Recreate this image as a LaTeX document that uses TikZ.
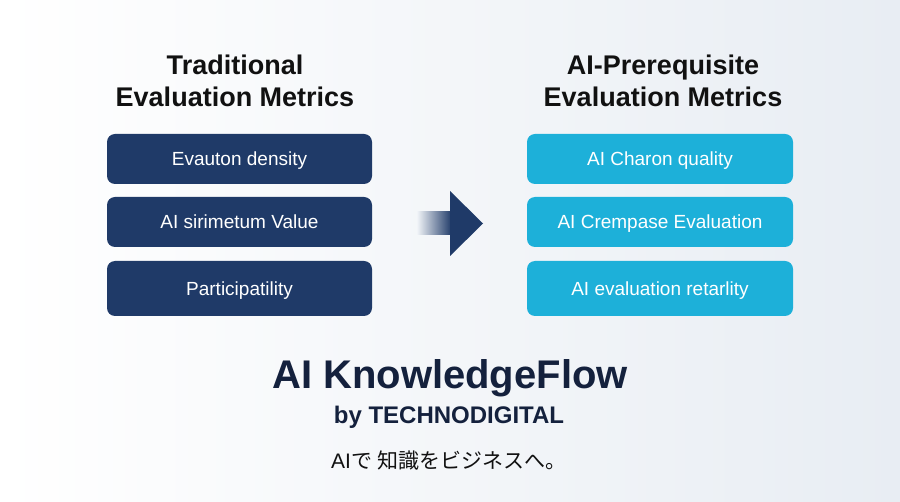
\documentclass[tikz,border=0pt]{standalone}
\usepackage{fontspec}
\setmainfont{Liberation Sans}
\newfontfamily\jpfont{Noto Sans CJK JP}
\usetikzlibrary{positioning}
\definecolor{navy}{HTML}{1F3A68}
\definecolor{cyanbox}{HTML}{1DB0D9}
\definecolor{titleblack}{HTML}{111111}
\definecolor{brandnavy}{HTML}{14213D}
\definecolor{bgblue}{HTML}{E8EDF3}
\tikzset{
  boxtext/.style={inner sep=0pt, text=white, text height=13.6pt, text depth=0pt, rounded corners=8pt, font=\fontsize{19}{22}\selectfont},
  leftbox/.style={boxtext, fill=navy, minimum width=265pt},
  rightbox/.style={boxtext, fill=cyanbox, minimum width=266pt},
  coltitle/.style={text=titleblack, align=center, font=\fontsize{27}{32}\selectfont\bfseries},
}
\begin{document}
\begin{tikzpicture}[x=1pt,y=-1pt]
\useasboundingbox (0,0) rectangle (900,502);
\shade[shading angle=135, left color=white, right color=bgblue] (0,0) rectangle (900,502);
\node[coltitle] (lt) at (235,81) {Traditional\\Evaluation Metrics};
\node[coltitle] (rt) at (663,81) {AI-Prerequisite\\Evaluation Metrics};
\node[leftbox, minimum height=50pt] (l1) at (239.5,159) {Evauton density};
\node[leftbox, minimum height=50pt] (l2) at (239.5,222) {AI sirimetum Value};
\node[leftbox, minimum height=55pt] (l3) at (239.5,288.5) {Participatility};
\node[rightbox, minimum height=50pt] (r1) at (660,159) {AI Charon quality};
\node[rightbox, minimum height=50pt] (r2) at (660,222) {AI Crempase Evaluation};
\node[rightbox, minimum height=55pt] (r3) at (660,288.5) {AI evaluation retarlity};
% arrow
\coordinate (tip) at (483,223.5);
\shade[left color=bgblue!60!white, right color=navy] (417,212) rectangle (452,235);
\fill[navy] (450,191) -- (tip) -- (450,256) -- cycle;
\node[text=brandnavy, font=\fontsize{40}{44}\selectfont\bfseries] (brand) at (450,378) {AI KnowledgeFlow};
\node[text=brandnavy, font=\fontsize{24}{28}\selectfont\bfseries] (by) at (449,417) {by TECHNODIGITAL};
\node[text=titleblack, font=\fontsize{21}{24}\selectfont] (jp) at (449,461) {AI{\jpfont で} {\jpfont 知識をビジネスへ。}};
\end{tikzpicture}
\end{document}
